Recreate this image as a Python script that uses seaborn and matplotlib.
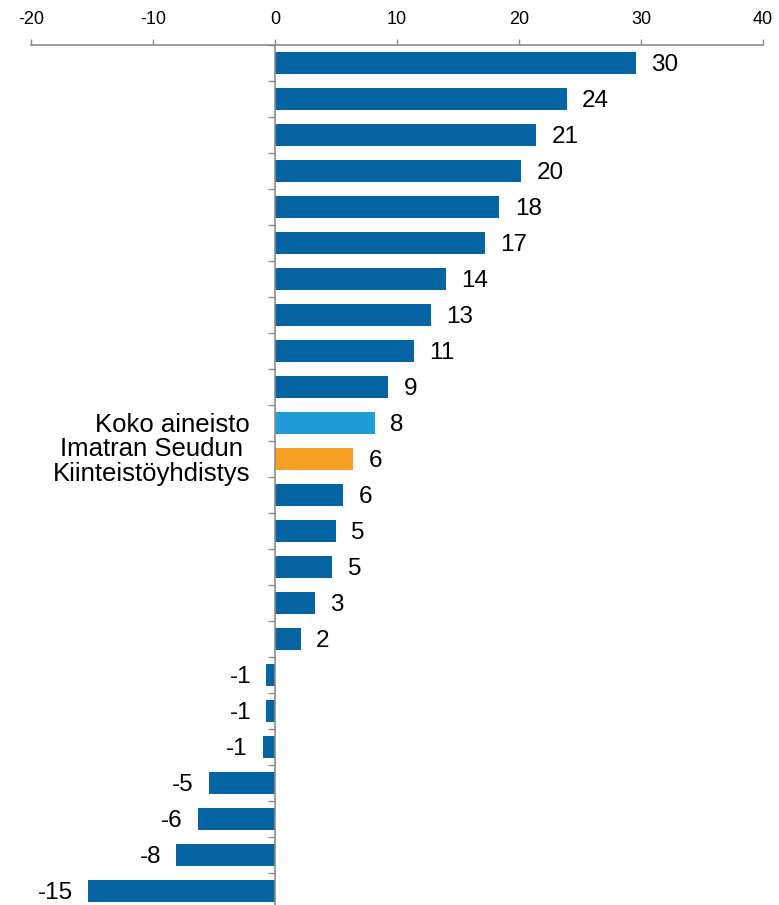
import matplotlib
matplotlib.use("Agg")
import matplotlib.pyplot as plt
import seaborn as sns
import pandas as pd
from matplotlib.ticker import FixedLocator

sns.set_theme(style="white")
plt.rcParams['font.family'] = ['Liberation Sans', 'DejaVu Sans']

# ---- data ----
categories = [f"c{i}" for i in range(1, 25)]
values = [29.6, 23.9, 21.4, 20.2, 18.4, 17.2, 14.0, 12.8, 11.4, 9.3,
          8.2, 6.4, 5.6, 5.0, 4.7, 3.3, 2.1, -0.7, -0.7, -1.0,
          -5.4, -6.3, -8.1, -15.3]
tick_labels = [""] * 10 + ["Koko aineisto", "Imatran Seudun \nKiinteistöyhdistys"] + [""] * 12
x_ticks = [-20, -10, 0, 10, 20, 30, 40]

DARK = "#0565A3"
LIGHT = "#1F9BD7"
ORANGE = "#F5A025"
colors = [DARK] * 24
colors[10] = LIGHT
colors[11] = ORANGE

df = pd.DataFrame({"cat": categories, "value": values})

fig = plt.figure(figsize=(7.79, 9.05), dpi=100)
ax = fig.add_axes([31 / 779, -4 / 905, (763 - 31) / 779, (909 - 45) / 905])

sns.barplot(data=df, x="value", y="cat", hue="cat", palette=colors,
            legend=False, width=0.62, ax=ax, saturation=1, linewidth=0)

ax.set_xlim(-20, 40)
ax.set_ylim(len(categories) - 0.5, -0.5)
ax.set_xlabel("")
ax.set_ylabel("")

# top axis
ax.xaxis.set_ticks_position("top")
ax.xaxis.set_label_position("top")
ax.set_xticks(x_ticks)
ax.set_xticklabels([str(t) for t in x_ticks], fontsize=13, color="black")
ax.tick_params(axis="x", direction="out", length=4, width=1, color="#8c8c8c", pad=8)

for s in ["right", "bottom"]:
    ax.spines[s].set_visible(False)
ax.spines["top"].set_color("#8c8c8c")
ax.spines["top"].set_linewidth(1.2)
ax.spines["left"].set_position(("data", 0))
ax.spines["left"].set_color("#8c8c8c")
ax.spines["left"].set_linewidth(1.2)

# y ticks: labels at bars, small marks at boundaries
ax.set_yticks(range(len(categories)))
ax.set_yticklabels(tick_labels, fontsize=18.5, linespacing=1.0, color="black")
ax.yaxis.set_minor_locator(FixedLocator([i + 0.5 for i in range(-1, len(categories))]))
ax.tick_params(axis="y", which="major", length=0, pad=18)
ax.tick_params(axis="y", which="minor", length=5, width=1, color="#8c8c8c", direction="out", left=True)

# value labels
for i, v in enumerate(values):
    if v >= 0:
        ax.annotate(f"{v:.0f}", (v, i), xytext=(11, -1.5), textcoords="offset points",
                    ha="left", va="center", fontsize=17.5, color="black")
    else:
        ax.annotate(f"{v:.0f}", (v, i), xytext=(-11, -1.5), textcoords="offset points",
                    ha="right", va="center", fontsize=17.5, color="black")

fig.savefig("out.png", dpi=100)
